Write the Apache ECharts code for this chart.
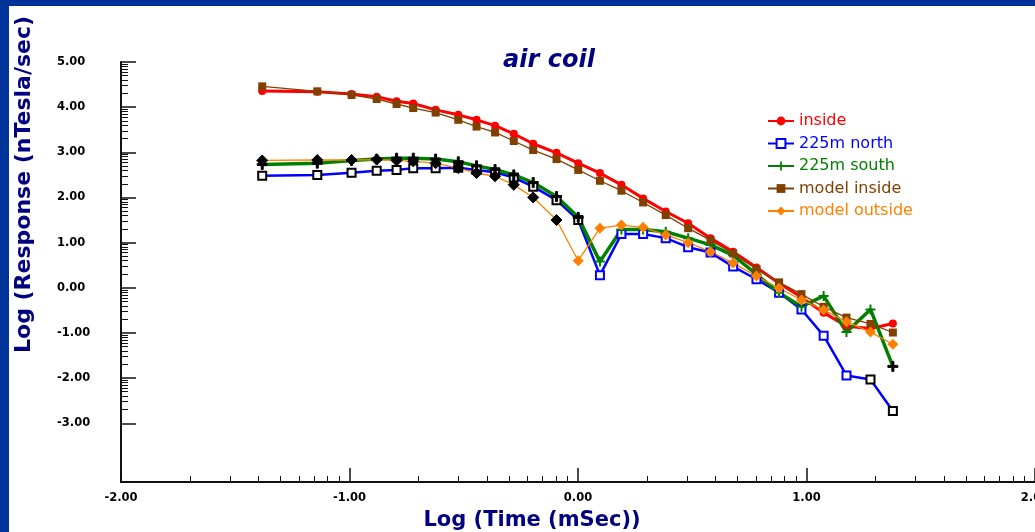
<!DOCTYPE html>
<html>
<head>
<meta charset="utf-8">
<title>air coil</title>
<script src="https://cdn.jsdelivr.net/npm/echarts@6/dist/echarts.min.js"></script>
<style>
  html, body { margin: 0; padding: 0; background: #ffffff; }
  #chart { width: 1035px; height: 532px; }
</style>
</head>
<body>
<div id="chart"></div>
<script>
// Time gates, log10(ms)
const logTime = [-1.382, -1.141, -0.991, -0.881, -0.794, -0.721, -0.623, -0.524, -0.444, -0.363,
                 -0.281, -0.196, -0.094, 0.001, 0.096, 0.190, 0.285, 0.384, 0.482, 0.580,
                 0.679, 0.781, 0.880, 0.978, 1.075, 1.175, 1.280, 1.378];

// log10 response (nT/s)
const inside = [4.36, 4.34, 4.29, 4.23, 4.13, 4.08, 3.94, 3.83, 3.72, 3.59,
                3.41, 3.19, 2.99, 2.76, 2.54, 2.28, 1.98, 1.69, 1.43, 1.10,
                0.80, 0.45, 0.10, -0.21, -0.55, -0.85, -0.90, -0.79];
const north225 = [2.48, 2.50, 2.55, 2.59, 2.61, 2.65, 2.65, 2.66, 2.61, 2.56,
                  2.44, 2.24, 1.94, 1.50, 0.28, 1.19, 1.19, 1.10, 0.90, 0.78,
                  0.47, 0.19, -0.11, -0.48, -1.06, -1.94, -2.03, -2.73];
const south225 = [2.73, 2.76, 2.82, 2.85, 2.87, 2.87, 2.85, 2.79, 2.70, 2.62,
                  2.50, 2.33, 2.02, 1.56, 0.58, 1.29, 1.29, 1.24, 1.10, 0.95,
                  0.72, 0.30, -0.11, -0.42, -0.18, -0.98, -0.48, -1.74];
const modelInside = [4.46, 4.35, 4.27, 4.18, 4.07, 3.98, 3.88, 3.72, 3.57, 3.44,
                     3.25, 3.05, 2.85, 2.61, 2.37, 2.15, 1.89, 1.61, 1.32, 1.05,
                     0.76, 0.41, 0.12, -0.14, -0.42, -0.66, -0.80, -0.99];
const modelOutside = [2.82, 2.83, 2.83, 2.84, 2.82, 2.80, 2.76, 2.65, 2.54, 2.47,
                      2.28, 2.00, 1.50, 0.60, 1.32, 1.39, 1.34, 1.17, 1.00, 0.80,
                      0.55, 0.26, -0.01, -0.27, -0.49, -0.75, -0.98, -1.25];

// Gates flagged (drawn with black markers)
const northFlagged = [0, 1, 2, 3, 4, 5, 6, 7, 8, 9, 10, 11, 12, 13, 26, 27];
const southFlagged = [0, 1, 2, 3, 4, 5, 6, 7, 8, 9, 10, 11, 12, 13, 27];
const modelOutsideFlagged = [0, 1, 2, 3, 4, 5, 6, 7, 8, 9, 10, 11, 12];

// Axis labels
const xTickValues = [-2, -1, 0, 1, 2];
const yTickValues = [-3, -2, -1, 0, 1, 2, 3, 4, 5];
const xRange = [-2, 2];
const yRange = [-4.3, 5];

// Log-cycle minor ticks inside each unit interval
function logCycleTicks(from, to) {
  const out = [];
  for (let n = from; n < to; n++) {
    for (let k = 2; k <= 9; k++) out.push(n + Math.log10(k));
  }
  return out;
}

function pairs(ys, flagged) {
  const set = new Set(flagged || []);
  return ys.map((y, i) => {
    const item = { value: [logTime[i], y] };
    if (set.has(i)) item.itemStyle = { color: '#000000', borderColor: '#000000' };
    return item;
  });
}

const plusPath = 'path://M4,0h2v4h4v2h-4v4h-2v-4h-4v-2h4z';
const navy = '#000080';
const ink = '#111111';
const tickFont = { color: '#000000', fontFamily: 'DejaVu Sans', fontWeight: 'bold', fontSize: 11.5 };

const colors = {
  inside: '#ff0000',
  north: '#0000ff',
  south: '#008000',
  modelInside: '#804000',
  modelOutside: '#ff8000'
};

function majorAxis(range, ticks, tickLen, label) {
  return {
    type: 'value', min: range[0], max: range[1],
    axisLine: { show: true, onZero: false, lineStyle: { color: ink, width: 2 } },
    axisTick: { show: true, inside: true, length: tickLen, customValues: ticks,
                lineStyle: { color: ink, width: 1.5 } },
    axisLabel: Object.assign({ show: true, customValues: ticks, showMinLabel: true, showMaxLabel: true,
                               hideOverlap: false, formatter: v => v.toFixed(2) }, tickFont, label),
    splitLine: { show: false }
  };
}

function minorAxis(range, ticks, tickLen) {
  return {
    type: 'value', min: range[0], max: range[1], offset: 0,
    axisLine: { show: false, onZero: false },
    axisTick: { show: true, inside: true, length: tickLen, customValues: ticks,
                lineStyle: { color: ink, width: 1 } },
    axisLabel: { show: false },
    splitLine: { show: false }
  };
}

const chart = echarts.init(document.getElementById('chart'), null, { renderer: 'canvas' });

chart.setOption({
  animation: false,
  backgroundColor: '#ffffff',
  grid: { left: 121, right: 0, top: 62, bottom: 50, containLabel: false, outerBoundsMode: 'none' },
  xAxis: [
    Object.assign(majorAxis(xRange, xTickValues, 14, { margin: 10 }), { position: 'bottom' }),
    Object.assign(minorAxis(xRange, logCycleTicks(-2, 2), 6), { position: 'bottom' })
  ],
  yAxis: [
    Object.assign(majorAxis(yRange, yTickValues, 15, { align: 'left', margin: 64 }), { position: 'left' }),
    Object.assign(minorAxis(yRange, logCycleTicks(-3, 5), 7), { position: 'left' })
  ],
  legend: {
    orient: 'vertical',
    left: 762, top: 108,
    itemWidth: 26, itemHeight: 11, itemGap: 6.5,
    textStyle: { fontFamily: 'DejaVu Sans', fontSize: 16, lineHeight: 16 },
    data: [
      { name: 'inside', textStyle: { color: colors.inside } },
      { name: '225m north', textStyle: { color: colors.north } },
      { name: '225m south', textStyle: { color: colors.south } },
      { name: 'model inside', textStyle: { color: colors.modelInside } },
      { name: 'model outside', textStyle: { color: colors.modelOutside } }
    ]
  },
  series: [
    {
      name: 'inside', type: 'line', data: pairs(inside),
      color: colors.inside, symbol: 'circle', symbolSize: 8, showAllSymbol: true,
      lineStyle: { width: 3, color: colors.inside }, itemStyle: { color: colors.inside }
    },
    {
      name: '225m north', type: 'line', data: pairs(north225, northFlagged),
      color: colors.north, symbol: 'emptyRect', symbolSize: 8, showAllSymbol: true,
      lineStyle: { width: 2.5, color: colors.north },
      itemStyle: { color: colors.north, borderWidth: 2 }
    },
    {
      name: '225m south', type: 'line', data: pairs(south225, southFlagged),
      color: colors.south, symbol: plusPath, symbolSize: 10, showAllSymbol: true,
      lineStyle: { width: 3.5, color: colors.south }, itemStyle: { color: colors.south }
    },
    {
      name: 'model inside', type: 'line', data: pairs(modelInside),
      color: colors.modelInside, symbol: 'rect', symbolSize: 8, showAllSymbol: true,
      lineStyle: { width: 1.3, color: colors.modelInside }, itemStyle: { color: colors.modelInside }
    },
    {
      name: 'model outside', type: 'line', data: pairs(modelOutside, modelOutsideFlagged),
      color: colors.modelOutside, symbol: 'diamond', symbolSize: 11, showAllSymbol: true,
      lineStyle: { width: 1.3, color: colors.modelOutside }, itemStyle: { color: colors.modelOutside }
    }
  ],
  graphic: [
    {
      type: 'text', x: 549, y: 61, z: 10,
      style: { text: 'air coil', fill: navy, font: 'italic bold 24px "DejaVu Sans"',
               align: 'center', verticalAlign: 'middle' }
    },
    {
      type: 'text', x: 532, y: 521, z: 10,
      style: { text: 'Log (Time (mSec))', fill: navy, font: 'bold 21px "DejaVu Sans"',
               align: 'center', verticalAlign: 'middle' }
    },
    {
      type: 'text', x: 24, y: 353, rotation: Math.PI / 2, z: 10,
      style: { text: 'Log (Response (nTesla/sec)', fill: navy, font: 'bold 22px "DejaVu Sans"',
               align: 'left', verticalAlign: 'middle' }
    },
    { type: 'rect', z: 20, shape: { x: 0, y: 0, width: 1035, height: 6 }, style: { fill: '#003399' } },
    { type: 'rect', z: 20, shape: { x: 0, y: 0, width: 9, height: 532 }, style: { fill: '#003399' } }
  ]
});
</script>
</body>
</html>
